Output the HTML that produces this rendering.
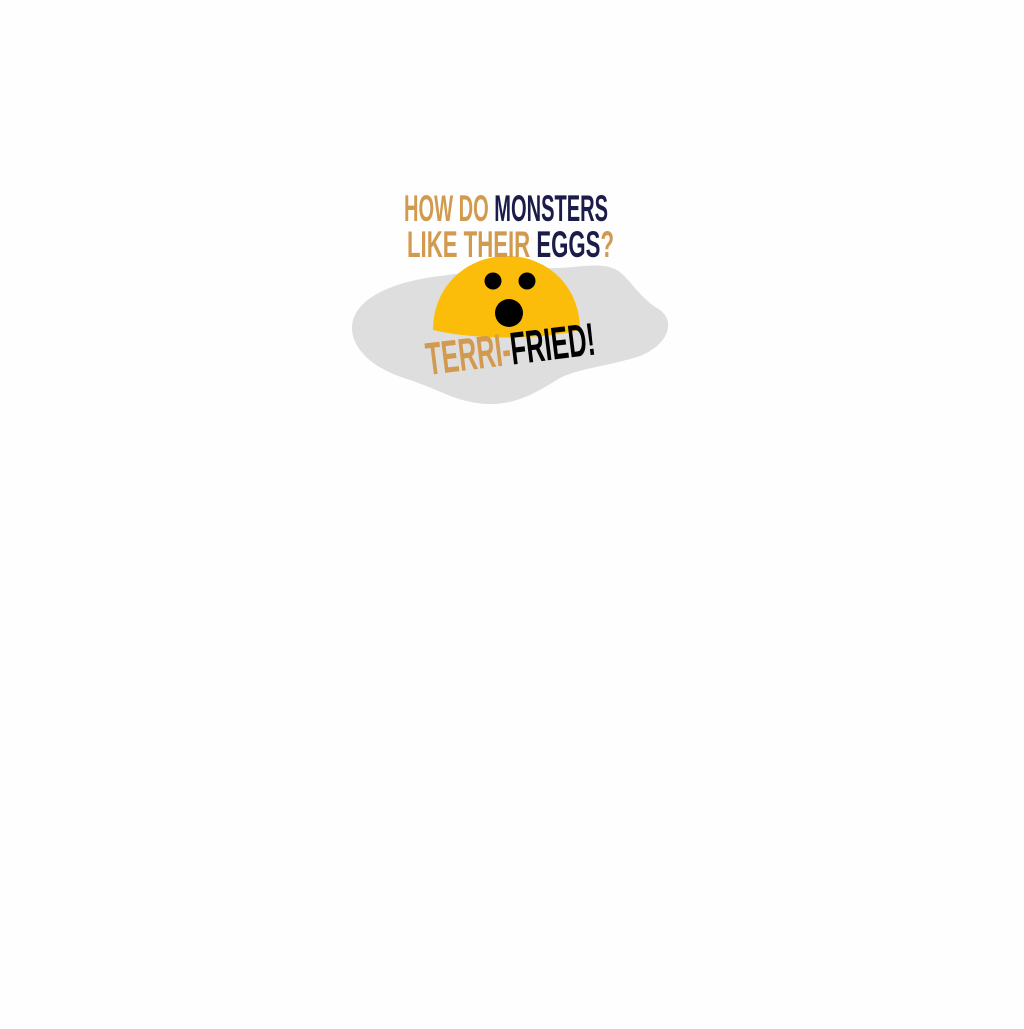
<!DOCTYPE html>
<html><head><style>html,body{margin:0;background:#fefefe}</style></head>
<body>
<svg width="1024" height="1024" viewBox="0 0 1024 1024" xmlns="http://www.w3.org/2000/svg">
<rect width="1024" height="1024" fill="#fefefe"/>
<path d="M352,328 C352,300 390,282 440,276 C480,270 520,268 560,268 C590,266 605,262 620,272 C632,282 640,298 660,310 C676,322 668,345 640,356 C610,366 580,368 560,378 C540,390 520,404 490,404 C460,404 440,390 410,380 C375,370 352,350 352,328 Z" fill="#dedede"/>
<path d="M433,330 C433,285 468,256 507,256 C546,256 580,285 580,330 C540,340 475,340 433,330 Z" fill="#fbbd0a"/>
<circle cx="493" cy="281" r="8.5" fill="#000"/>
<circle cx="527" cy="281" r="8.5" fill="#000"/>
<circle cx="509" cy="313" r="14" fill="#000"/>
<g font-family="'Liberation Sans Narrow','Liberation Sans',sans-serif" font-weight="bold">
<text x="404" y="221" font-size="37" textLength="204" lengthAdjust="spacingAndGlyphs"><tspan fill="#d29a4e">HOW DO </tspan><tspan fill="#1c1c4a">MONSTERS</tspan></text>
<text x="407" y="257" font-size="37" textLength="207" lengthAdjust="spacingAndGlyphs"><tspan fill="#d29a4e">LIKE THEIR </tspan><tspan fill="#1c1c4a">EGGS</tspan><tspan fill="#d29a4e">?</tspan></text>
<text x="0" y="0" font-size="46" transform="translate(428,375) rotate(-7)" textLength="170" lengthAdjust="spacingAndGlyphs"><tspan fill="#d29a4e">TERRI-</tspan><tspan fill="#000">FRIED!</tspan></text>
</g>
</svg>
</body></html>
